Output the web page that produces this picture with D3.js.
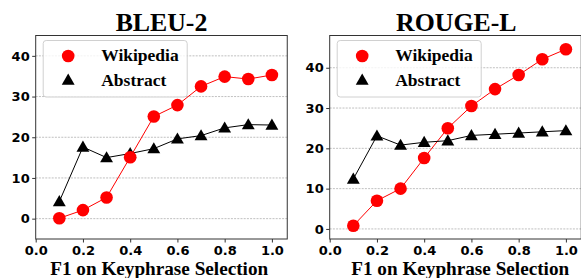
<!DOCTYPE html>
<html lang="en">
<head>
<meta charset="utf-8">
<style>
	body { margin: 0; background: white; }
	svg { display: block; }
	.tick text { font-family: "DejaVu Sans", sans-serif; font-weight: bold; font-size: 13px; fill: black; }
	.serif { font-family: "Liberation Serif", "Times New Roman", serif; font-weight: bold; }
	.grid line { stroke: #b0b0b0; stroke-width: 0.8; stroke-dasharray: 2, 1.2; }
</style>
</head>
<body>
<svg width="581" height="278"></svg>
<script src="https://d3js.org/d3.v7.min.js"></script>
<script>
	// data
	const f1 = [0.1, 0.2, 0.3, 0.4, 0.5, 0.6, 0.7, 0.8, 0.9, 1.0];
	const bleuWiki = [0.1, 2.1, 5.2, 15.1, 25.1, 27.9, 32.5, 34.9, 34.3, 35.3];
	const bleuAbstract = [4.2, 17.6, 15.0, 16.0, 17.2, 19.6, 20.4, 22.3, 23.1, 23.0];
	const rougeWiki = [0.8, 7.0, 10.0, 17.6, 25.0, 30.5, 34.7, 38.2, 42.1, 44.6];
	const rougeAbstract = [12.4, 23.1, 20.8, 21.5, 21.9, 23.2, 23.5, 23.8, 24.1, 24.4];
	const xTicks = [0.0, 0.2, 0.4, 0.6, 0.8, 1.0];
	const yTicks = [0, 10, 20, 30, 40];
	const seriesNames = ["Wikipedia", "Abstract"];

	const svg = d3.select("svg");
	const plotTop = 35.5, plotBottom = 239;

	const drawPanel = function (p) {
		const x = d3.scaleLinear().domain([0, 1.065]).range([p.left, p.left + 1.065 * 236.2]);
		const y = d3.scaleLinear().domain(p.yDomain).range([plotBottom, plotTop]);
		const g = svg.append("g");

		// grid
		g.append("g").attr("class", "grid")
			.selectAll("line").data(yTicks).enter().append("line")
			.attr("x1", x.range()[0]).attr("x2", x.range()[1])
			.attr("y1", d => y(d)).attr("y2", d => y(d));

		// frame
		g.append("rect")
			.attr("x", x.range()[0]).attr("y", plotTop)
			.attr("width", x.range()[1] - x.range()[0]).attr("height", plotBottom - plotTop)
			.attr("fill", "none").attr("stroke", "#333").attr("stroke-width", 1);

		const yAxis = d3.axisLeft(y).tickValues(yTicks).tickSize(3.5).tickPadding(2.5).tickFormat(d3.format("d"));
		const xAxis = d3.axisBottom(x).tickValues(xTicks).tickSize(3.5).tickPadding(3).tickFormat(d3.format(".1f"));
		g.append("g").attr("transform", "translate(" + x.range()[0] + ",0)").call(yAxis)
			.call(a => a.select(".domain").remove());
		g.append("g").attr("transform", "translate(0," + plotBottom + ")").call(xAxis)
			.call(a => a.select(".domain").remove());
		g.selectAll(".tick line").attr("stroke", "#333");

		// lines
		const line = vals => d3.line().x((d, i) => x(f1[i])).y(d => y(d))(vals);
		g.append("path").attr("d", line(p.wiki)).attr("fill", "none").attr("stroke", "red").attr("stroke-width", 1);
		g.append("path").attr("d", line(p.abs)).attr("fill", "none").attr("stroke", "black").attr("stroke-width", 1);

		const tri = d3.symbol().type(d3.symbolTriangle).size(72);
		g.selectAll(".abs").data(p.abs).enter().append("path")
			.attr("d", tri)
			.attr("transform", (d, i) => "translate(" + x(f1[i]) + "," + (y(d) + 1) + ")")
			.attr("fill", "black");
		g.selectAll(".wiki").data(p.wiki).enter().append("circle")
			.attr("cx", (d, i) => x(f1[i])).attr("cy", d => y(d))
			.attr("r", 6.3).attr("fill", "red");

		// title and axis label
		g.append("text").attr("class", "serif").attr("x", p.titleX).attr("y", 30.7)
			.attr("text-anchor", "middle").attr("font-size", "25.8px").text(p.title);
		g.append("text").attr("class", "serif").attr("x", p.labelX).attr("y", 275)
			.attr("text-anchor", "middle").attr("font-size", "19.2px").text("F1 on Keyphrase Selection");

		// legend
		const lg = g.append("g").attr("transform", "translate(" + (p.left + 7.5) + ",40.5)");
		lg.append("rect").attr("width", 144).attr("height", 56.5).attr("rx", 3)
			.attr("fill", "white").attr("fill-opacity", 0.8).attr("stroke", "#d0d0d0").attr("stroke-width", 1);
		lg.append("circle").attr("cx", 25).attr("cy", 15.5).attr("r", 6.3).attr("fill", "red");
		lg.append("path").attr("d", tri).attr("transform", "translate(25,40.5)").attr("fill", "black");
		lg.selectAll("text").data(seriesNames).enter().append("text")
			.attr("class", "serif").attr("font-size", "17.5px")
			.attr("x", 58).attr("y", (d, i) => 20.5 + i * 24.5).text(d => d);
	};

	drawPanel({ left: 35.7, yDomain: [-5, 45], wiki: bleuWiki, abs: bleuAbstract, title: "BLEU-2", titleX: 161.5, labelX: 159.2 });
	drawPanel({ left: 329.7, yDomain: [-2.5, 48], wiki: rougeWiki, abs: rougeAbstract, title: "ROUGE-L", titleX: 456.3, labelX: 460.2 });
</script>
</body>
</html>
